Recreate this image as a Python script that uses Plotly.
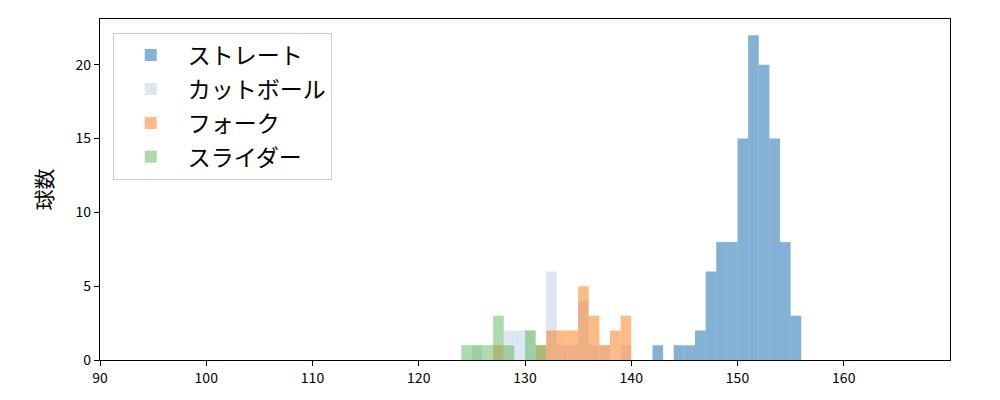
import plotly.graph_objects as go

# bin left edges (km/h, width 1) and counts per pitch type
straight_bins = [142, 143, 144, 145, 146, 147, 148, 149, 150, 151, 152, 153, 154, 155]
straight_cnt = [1, 0, 1, 1, 2, 6, 8, 8, 15, 22, 20, 15, 8, 3]

cut_bins = [125, 128, 129, 130, 132, 133, 134, 135, 136, 137, 139]
cut_cnt = [1, 2, 2, 2, 6, 1, 1, 4, 1, 1, 1]

fork_bins = [127, 131, 132, 133, 134, 135, 136, 137, 138, 139]
fork_cnt = [1, 1, 2, 2, 2, 5, 3, 1, 2, 3]

slider_bins = [124, 125, 126, 127, 128, 130, 131]
slider_cnt = [1, 1, 1, 3, 1, 2, 1]

x_ticks = [90, 100, 110, 120, 130, 140, 150, 160]
y_ticks = [0, 5, 10, 15, 20]

series = [
    ("ストレート", straight_bins, straight_cnt, "rgba(9,101,175,0.5)"),
    ("カットボール", cut_bins, cut_cnt, "rgba(185,207,231,0.5)"),
    ("フォーク", fork_bins, fork_cnt, "rgba(253,119,21,0.5)"),
    ("スライダー", slider_bins, slider_cnt, "rgba(93,183,91,0.5)"),
]

FONT = "Noto Sans CJK JP"

fig = go.Figure()
for i, (name, bins, cnt, col) in enumerate(series):
    fig.add_trace(go.Bar(
        x=[b + 0.5 for b in bins], y=cnt, width=1, name=name,
        marker=dict(color=col, line=dict(width=0)),
        legendgroup=str(i)))

# page body has an 8px margin, so shift the margins to land the axes at 100..950 x 19..360
fig.update_layout(
    barmode="overlay",
    width=1000, height=400,
    margin=dict(l=92, r=58, t=11, b=48),
    plot_bgcolor="white", paper_bgcolor="white",
    font=dict(family=FONT, color="black", size=14),
    showlegend=True,
    legend=dict(
        x=0.015, y=0.96, xanchor="left", yanchor="top",
        bgcolor="white", bordercolor="#cccccc", borderwidth=1,
        font=dict(size=23, family=FONT),
        traceorder="grouped", tracegroupgap=1,
        itemwidth=64),
)
fig.update_xaxes(
    range=[90, 170], tickvals=x_ticks,
    showgrid=False, zeroline=False,
    ticks="outside", ticklen=5, tickwidth=1.2, tickcolor="black",
    showline=True, linecolor="black", linewidth=1.2, mirror=True)
fig.update_yaxes(
    range=[0, 23.1], tickvals=y_ticks,
    showgrid=False, zeroline=False,
    ticks="outside", ticklen=5, tickwidth=1.2, tickcolor="black",
    showline=True, linecolor="black", linewidth=1.2, mirror=True,
    title=dict(text="球数", font=dict(size=21, family=FONT), standoff=17))

fig.write_html("out.html")
